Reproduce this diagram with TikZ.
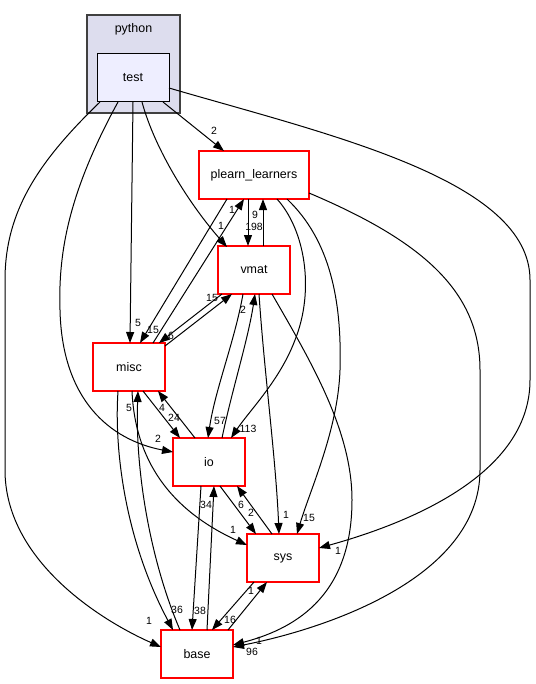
\documentclass[tikz,border=0pt]{standalone}
\usepackage{fontspec}
\setmainfont{Liberation Sans}
\usetikzlibrary{arrows.meta}
\definecolor{clusterfill}{HTML}{DDDDEE}
\definecolor{testfill}{HTML}{EEEEFF}
\definecolor{clusterline}{HTML}{404040}
\definecolor{boxred}{HTML}{FF0000}
\tikzset{
  dirbox/.style={draw=boxred, line width=1.4bp, fill=white, minimum width=72bp, minimum height=48bp, inner sep=0pt, font=\fontsize{12.5}{14}\selectfont},
  wide/.style={minimum width=110bp},
  edge/.style={line width=1bp, -{Triangle[length=11bp,width=8bp]}},
  lbl/.style={inner sep=0pt, font=\fontsize{10.5}{12}\selectfont},
}
\begin{document}
\begin{tikzpicture}[x=1bp,y=-1bp]
\useasboundingbox (0,0) rectangle (536,684);
% cluster
\node[draw=clusterline, line width=1.3bp, fill=clusterfill, minimum width=93bp, minimum height=98bp, inner sep=0pt] (python) at (133.5,64) {};
\node[font=\fontsize{12.5}{14}\selectfont, inner sep=0pt] (pythonlbl) at (133.5,29) {python};
\node[dirbox, line width=1bp, draw=black, fill=testfill] (test) at (133,78) {test};
% nodes
\node[dirbox, wide] (plearn) at (254,175) {plearn\_learners};
\node[dirbox] (vmat) at (254,270) {vmat};
\node[dirbox] (misc) at (129,367) {misc};
\node[dirbox] (io) at (209,462) {io};
\node[dirbox] (sys) at (283,558) {sys};
\node[dirbox] (base) at (197,654) {base};

% edges from test
\draw[edge] ([shift={(30,24)}]test.center) -- ([shift={(-30,-24)}]plearn.center);
\draw[edge] ([shift={(9,24)}]test.center) .. controls (155,150) and (190,205) .. ([shift={(-27,-23)}]vmat.center);
\draw[edge] ([shift={(0,24)}]test.center) -- ([shift={(1,-24)}]misc.center);
\draw[edge] ([shift={(-15,24)}]test.center) .. controls (70,190) and (58,250) .. (60,310) .. controls (62,400) and (110,440) .. ([shift={(-36,-10)}]io.center);
\draw[edge] ([shift={(-33,24)}]test.center) .. controls (40,160) and (5,210) .. (5,280) -- (5,470) .. controls (5,560) and (100,620) .. ([shift={(-36,-7)}]base.center);
\draw[edge] ([shift={(36,10)}]test.center) .. controls (330,135) and (530,180) .. (530,280) -- (530,380) .. controls (530,470) and (420,520) .. ([shift={(36,-10)}]sys.center);

% plearn edges
\draw[edge] ([shift={(-27,24)}]plearn.center) -- ([shift={(11,-24)}]misc.center);
\draw[edge] ([shift={(24,-24)}]misc.center) -- ([shift={(-10,24)}]plearn.center);
\draw[edge] ([shift={(-6,24)}]plearn.center) -- ([shift={(-6,-24)}]vmat.center);
\draw[edge] ([shift={(9,-24)}]vmat.center) -- ([shift={(9,24)}]plearn.center);
\draw[edge] ([shift={(23,24)}]plearn.center) .. controls (305,230) and (315,290) .. (295,340) .. controls (280,380) and (250,410) .. ([shift={(22,-24)}]io.center);
\draw[edge] ([shift={(33,24)}]plearn.center) .. controls (330,240) and (342,300) .. (340,370) .. controls (338,430) and (310,490) .. ([shift={(14,-24)}]sys.center);
\draw[edge] ([shift={(55,18)}]plearn.center) .. controls (420,240) and (480,290) .. (480,370) -- (480,470) .. controls (480,580) and (320,630) .. ([shift={(36,-7)}]base.center);

% vmat edges
\draw[edge] ([shift={(-32,24)}]vmat.center) -- ([shift={(30,-24)}]misc.center);
\draw[edge] ([shift={(36,-21)}]misc.center) -- ([shift={(-22,24)}]vmat.center);
\draw[edge] ([shift={(-11,24)}]vmat.center) .. controls (235,340) and (215,390) .. ([shift={(-1,-24)}]io.center);
\draw[edge] ([shift={(13,-24)}]io.center) .. controls (232,390) and (248,340) .. ([shift={(1,24)}]vmat.center);
\draw[edge] ([shift={(5,24)}]vmat.center) .. controls (264,370) and (276,460) .. ([shift={(-4,-24)}]sys.center);
\draw[edge] ([shift={(18,24)}]vmat.center) .. controls (310,360) and (352,430) .. (352,500) .. controls (352,600) and (290,630) .. ([shift={(36,-9)}]base.center);

% misc edges
\draw[edge] ([shift={(-11,24)}]misc.center) .. controls (114,450) and (125,540) .. ([shift={(-24,-24)}]base.center);
\draw[edge] ([shift={(-17,-24)}]base.center) .. controls (150,560) and (135,470) .. ([shift={(9,24)}]misc.center);
\draw[edge] ([shift={(3,24)}]misc.center) .. controls (135,460) and (170,510) .. ([shift={(-36,-13)}]sys.center);
\draw[edge] ([shift={(14,24)}]misc.center) -- ([shift={(-29,-24)}]io.center);
\draw[edge] ([shift={(-14,-24)}]io.center) -- ([shift={(29,24)}]misc.center);

% io edges
\draw[edge] ([shift={(-8,24)}]io.center) -- ([shift={(-5,-24)}]base.center);
\draw[edge] ([shift={(10,-24)}]base.center) -- ([shift={(5,24)}]io.center);
\draw[edge] ([shift={(11,24)}]io.center) -- ([shift={(-27,-24)}]sys.center);
\draw[edge] ([shift={(-11,-24)}]sys.center) -- ([shift={(28,24)}]io.center);

% sys/base edges
\draw[edge] ([shift={(-29,24)}]sys.center) -- ([shift={(15,-24)}]base.center);
\draw[edge] ([shift={(31,-24)}]base.center) -- ([shift={(-16,24)}]sys.center);

% labels
\node[lbl] (l1) at (214,131) {2};
\node[lbl] (l2) at (221,226) {1};
\node[lbl] (l3) at (138,323) {5};
\node[lbl] (l4) at (158,439) {2};
\node[lbl] (l5) at (149,621) {1};
\node[lbl] (l6) at (338,551) {1};
\node[lbl] (l7) at (153,330) {15};
\node[lbl] (l8) at (232,210) {1};
\node[lbl] (l9) at (255,215) {9};
\node[lbl] (l10) at (254,227) {198};
\node[lbl] (l11) at (248,429) {113};
\node[lbl] (l12) at (309,518) {15};
\node[lbl] (l13) at (259,641) {1};
\node[lbl] (l14) at (252,652) {96};
\node[lbl] (l15) at (171,336) {6};
\node[lbl] (l16) at (212,298) {15};
\node[lbl] (l17) at (220,421) {57};
\node[lbl] (l18) at (243,310) {2};
\node[lbl] (l19) at (286,515) {1};
\node[lbl] (l20) at (177,610) {36};
\node[lbl] (l21) at (129,408) {5};
\node[lbl] (l22) at (233,530) {1};
\node[lbl] (l23) at (174,418) {24};
\node[lbl] (l24) at (162,408) {4};
\node[lbl] (l25) at (200,611) {38};
\node[lbl] (l26) at (206,505) {34};
\node[lbl] (l27) at (251,513) {2};
\node[lbl] (l28) at (241,505) {6};
\node[lbl] (l29) at (230,620) {16};
\node[lbl] (l30) at (251,591) {1};
\end{tikzpicture}
\end{document}
